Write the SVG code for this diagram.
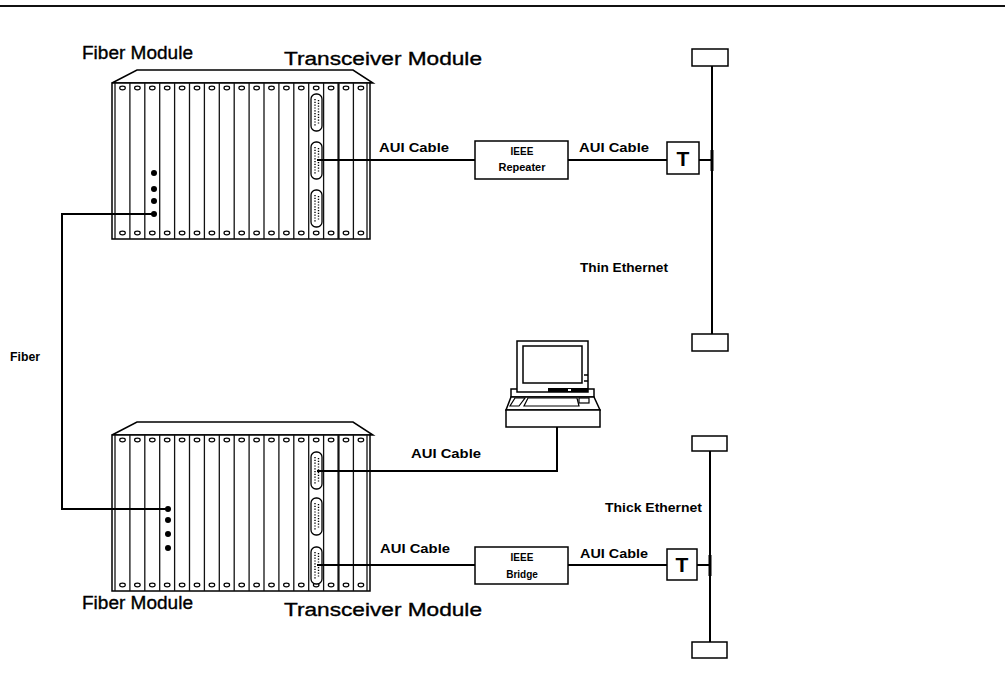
<svg xmlns="http://www.w3.org/2000/svg" xmlns:xlink="http://www.w3.org/1999/xlink" width="1005" height="691" viewBox="0 0 1005 691">
  <style>
    .ln { fill: none; stroke: #000; stroke-width: 2; }
    .box { fill: #fff; stroke: #000; stroke-width: 1.5; }
    .div { stroke: #111; stroke-width: 1.3; }
    .screw { fill: #fff; stroke: #000; stroke-width: 1.2; }
    .pins { stroke: #000; stroke-width: 1.4; stroke-dasharray: 1.2 1.6; }
    .lbl { font-family: "Liberation Sans", Arial, Helvetica, sans-serif; font-weight: bold; font-size: 13px; fill: #000; }
    .small { font-family: "Liberation Sans", Arial, Helvetica, sans-serif; font-weight: bold; font-size: 10px; fill: #000; }
    .title { font-family: "Liberation Sans", Arial, Helvetica, sans-serif; font-size: 18px; fill: #000; stroke: #000; stroke-width: 0.35; }
    .tee { font-family: "Liberation Sans", Arial, Helvetica, sans-serif; font-weight: bold; font-size: 21px; fill: #000; }
  </style>
  <defs>
    <!-- 17-slot chassis shell: cap, frame, slot dividers, screws -->
    <g id="shell">
      <polygon class="box" points="112,83 137,70 353,70 373,83"/>
      <rect class="box" x="112" y="83" width="258" height="156"/>
      <line class="div" x1="115" y1="83" x2="115" y2="239"/>
      <line class="div" x1="367" y1="83" x2="367" y2="239"/>
      <g class="div">
        <line x1="129.9" y1="83" x2="129.9" y2="239"/>
        <line x1="144.8" y1="83" x2="144.8" y2="239"/>
        <line x1="159.7" y1="83" x2="159.7" y2="239"/>
        <line x1="174.6" y1="83" x2="174.6" y2="239"/>
        <line x1="189.5" y1="83" x2="189.5" y2="239"/>
        <line x1="204.4" y1="83" x2="204.4" y2="239"/>
        <line x1="219.3" y1="83" x2="219.3" y2="239"/>
        <line x1="234.2" y1="83" x2="234.2" y2="239"/>
        <line x1="249.1" y1="83" x2="249.1" y2="239"/>
        <line x1="264" y1="83" x2="264" y2="239"/>
        <line x1="278.9" y1="83" x2="278.9" y2="239"/>
        <line x1="293.8" y1="83" x2="293.8" y2="239"/>
        <line x1="308.7" y1="83" x2="308.7" y2="239"/>
        <line x1="323.6" y1="83" x2="323.6" y2="239"/>
        <line x1="338.5" y1="83" x2="338.5" y2="239" style="stroke-width:2.2"/>
        <line x1="353.4" y1="83" x2="353.4" y2="239"/>
      </g>
      <g id="screwrow">
        <ellipse class="screw" cx="122.5" cy="88" rx="2.8" ry="1.8"/>
        <ellipse class="screw" cx="137.4" cy="88" rx="2.8" ry="1.8"/>
        <ellipse class="screw" cx="152.3" cy="88" rx="2.8" ry="1.8"/>
        <ellipse class="screw" cx="167.2" cy="88" rx="2.8" ry="1.8"/>
        <ellipse class="screw" cx="182.1" cy="88" rx="2.8" ry="1.8"/>
        <ellipse class="screw" cx="197" cy="88" rx="2.8" ry="1.8"/>
        <ellipse class="screw" cx="211.9" cy="88" rx="2.8" ry="1.8"/>
        <ellipse class="screw" cx="226.8" cy="88" rx="2.8" ry="1.8"/>
        <ellipse class="screw" cx="241.7" cy="88" rx="2.8" ry="1.8"/>
        <ellipse class="screw" cx="256.6" cy="88" rx="2.8" ry="1.8"/>
        <ellipse class="screw" cx="271.5" cy="88" rx="2.8" ry="1.8"/>
        <ellipse class="screw" cx="286.4" cy="88" rx="2.8" ry="1.8"/>
        <ellipse class="screw" cx="301.3" cy="88" rx="2.8" ry="1.8"/>
        <ellipse class="screw" cx="316.2" cy="88" rx="2.8" ry="1.8"/>
        <ellipse class="screw" cx="331.1" cy="88" rx="2.8" ry="1.8"/>
        <ellipse class="screw" cx="346" cy="88" rx="2.8" ry="1.8"/>
        <ellipse class="screw" cx="360.9" cy="88" rx="2.8" ry="1.8"/>
      </g>
      <use xlink:href="#screwrow" transform="translate(0,145)"/>
    </g>
    <!-- D-sub AUI connector -->
    <g id="dsub">
      <rect class="box" x="0" y="0" width="11" height="37" rx="5" ry="5" style="stroke-width:1.3"/>
      <line class="pins" x1="4" y1="5" x2="4" y2="32"/>
      <line class="pins" x1="7.5" y1="6" x2="7.5" y2="31"/>
    </g>
    <!-- fibre port dot -->
    <circle id="fport" cx="0" cy="0" r="3"/>
  </defs>

  <!-- page rule -->
  <line x1="0" y1="6" x2="1005" y2="6" stroke="#111" stroke-width="2"/>

  <!-- upper hub -->
  <g id="hub-upper">
    <use xlink:href="#shell"/>
    <use xlink:href="#dsub" x="311" y="94"/>
    <use xlink:href="#dsub" x="311" y="142"/>
    <use xlink:href="#dsub" x="311" y="190"/>
    <use xlink:href="#fport" x="154" y="173"/>
    <use xlink:href="#fport" x="154" y="189"/>
    <use xlink:href="#fport" x="154" y="201"/>
    <use xlink:href="#fport" x="154" y="214"/>
  </g>

  <!-- lower hub -->
  <g id="hub-lower">
    <use xlink:href="#shell" transform="translate(0,352)"/>
    <use xlink:href="#dsub" x="311" y="452"/>
    <use xlink:href="#dsub" x="311" y="498"/>
    <use xlink:href="#dsub" x="311" y="547"/>
    <use xlink:href="#fport" x="168" y="509"/>
    <use xlink:href="#fport" x="168" y="520"/>
    <use xlink:href="#fport" x="168" y="534"/>
    <use xlink:href="#fport" x="168" y="548"/>
  </g>

  <!-- repeater -->
  <g id="repeater">
    <rect class="box" x="475" y="141" width="93" height="38"/>
    <text class="small" x="522" y="155" text-anchor="middle">IEEE</text>
    <text class="small" x="522" y="171" text-anchor="middle" textLength="47" lengthAdjust="spacingAndGlyphs">Repeater</text>
  </g>

  <!-- bridge -->
  <g id="bridge">
    <rect class="box" x="475" y="547" width="93" height="37"/>
    <text class="small" x="522" y="561" text-anchor="middle">IEEE</text>
    <text class="small" x="522" y="578" text-anchor="middle">Bridge</text>
  </g>

  <!-- transceiver taps -->
  <g id="tap-thin">
    <rect class="box" x="667" y="142" width="32" height="32"/>
    <text class="tee" x="683" y="166" text-anchor="middle">T</text>
  </g>
  <g id="tap-thick">
    <rect class="box" x="667" y="549" width="30" height="31"/>
    <text class="tee" x="682" y="572" text-anchor="middle">T</text>
  </g>

  <!-- terminators -->
  <g id="term-thin-top"><rect class="box" x="692" y="49" width="36" height="17"/></g>
  <g id="term-thin-bottom"><rect class="box" x="692" y="334" width="36" height="17"/></g>
  <g id="term-thick-top"><rect class="box" x="692" y="436" width="35" height="15"/></g>
  <g id="term-thick-bottom"><rect class="box" x="692" y="642" width="35" height="16"/></g>

  <!-- workstation -->
  <g id="workstation">
    <rect class="box" x="511" y="389" width="83" height="8"/>
    <rect class="box" x="517" y="341" width="71" height="51"/>
    <rect class="box" x="523" y="346" width="59" height="37"/>
    <rect x="548" y="388" width="40" height="4" fill="#000"/>
    <rect x="568" y="389" width="3" height="2" fill="#fff"/>
    <line x1="584" y1="375" x2="588" y2="375" stroke="#000" stroke-width="1.5"/>
    <line x1="584" y1="381" x2="588" y2="381" stroke="#000" stroke-width="1.5"/>
    <polygon class="box" points="511,397 594,397 600,410 506,410"/>
    <polygon class="box" points="528,398 577,398 579,406 524,406" style="stroke-width:1.2"/>
    <polygon class="box" points="515,398 525,398 519,406 510,406" style="stroke-width:1.2"/>
    <rect class="box" x="579" y="398" width="10" height="5" style="stroke-width:1.2"/>
    <rect class="box" x="506" y="410" width="94" height="17"/>
  </g>

  <!-- cabling -->
  <g id="connectors">
    <!-- fibre link between the two fibre modules -->
    <polyline class="ln" points="154,214 62,214 62,509 168,509"/>
    <!-- upper hub to repeater to thin ethernet -->
    <line class="ln" x1="317" y1="160" x2="475" y2="160"/>
    <line class="ln" x1="568" y1="160" x2="667" y2="160"/>
    <line class="ln" x1="699" y1="160" x2="712" y2="160"/>
    <line x1="712" y1="150" x2="712" y2="171" stroke="#000" stroke-width="3"/>
    <!-- thin ethernet bus -->
    <line class="ln" x1="712" y1="66" x2="712" y2="334"/>
    <!-- lower hub to workstation -->
    <polyline class="ln" points="317,471 557,471 557,427"/>
    <!-- lower hub to bridge to thick ethernet -->
    <line class="ln" x1="317" y1="565" x2="475" y2="565"/>
    <line class="ln" x1="568" y1="565" x2="667" y2="565"/>
    <line class="ln" x1="697" y1="565" x2="710" y2="565"/>
    <line x1="710" y1="555" x2="710" y2="576" stroke="#000" stroke-width="3"/>
    <!-- thick ethernet bus -->
    <line class="ln" x1="710" y1="451" x2="710" y2="642"/>
  </g>

  <!-- labels -->
  <g id="labels">
    <text class="title" x="82" y="59" textLength="111" lengthAdjust="spacingAndGlyphs">Fiber Module</text>
    <text class="title" x="284" y="65" textLength="198" lengthAdjust="spacingAndGlyphs">Transceiver Module</text>
    <text class="title" x="82" y="609" textLength="111" lengthAdjust="spacingAndGlyphs">Fiber Module</text>
    <text class="title" x="284" y="616" textLength="198" lengthAdjust="spacingAndGlyphs">Transceiver Module</text>
    <text class="lbl" x="379" y="152" textLength="70" lengthAdjust="spacingAndGlyphs">AUI Cable</text>
    <text class="lbl" x="579" y="152" textLength="70" lengthAdjust="spacingAndGlyphs">AUI Cable</text>
    <text class="lbl" x="580" y="272" textLength="88" lengthAdjust="spacingAndGlyphs">Thin Ethernet</text>
    <text class="lbl" x="10" y="361" font-size="11" textLength="30" lengthAdjust="spacingAndGlyphs">Fiber</text>
    <text class="lbl" x="411" y="458" textLength="70" lengthAdjust="spacingAndGlyphs">AUI Cable</text>
    <text class="lbl" x="605" y="512" textLength="97" lengthAdjust="spacingAndGlyphs">Thick Ethernet</text>
    <text class="lbl" x="380" y="553" textLength="70" lengthAdjust="spacingAndGlyphs">AUI Cable</text>
    <text class="lbl" x="580" y="558" textLength="68" lengthAdjust="spacingAndGlyphs">AUI Cable</text>
  </g>
</svg>
